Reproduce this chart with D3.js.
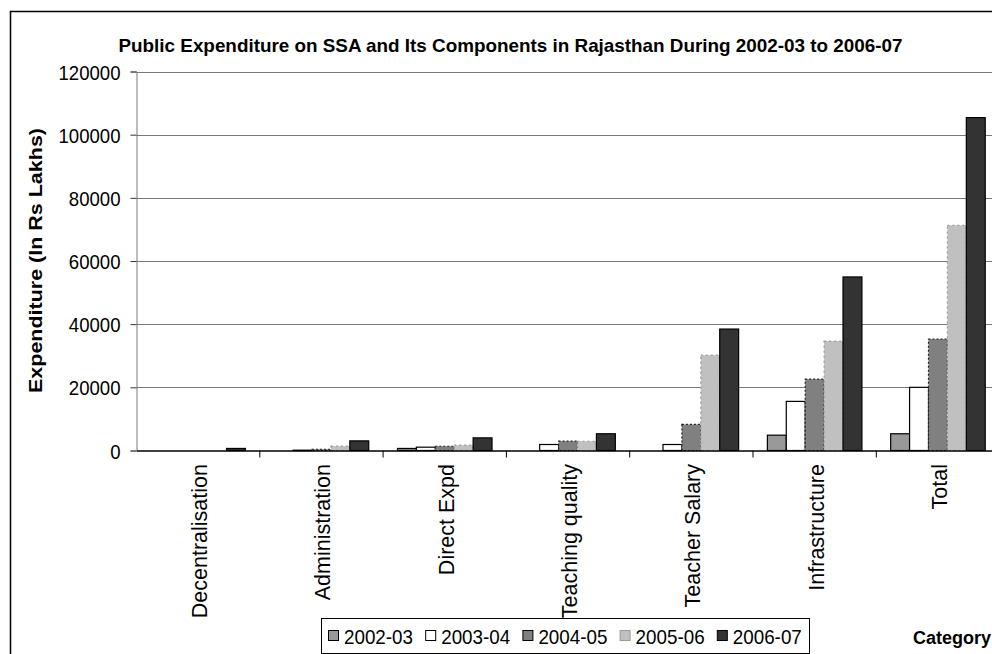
<!DOCTYPE html>
<html>
<head>
<meta charset="utf-8">
<script src="https://cdn.jsdelivr.net/npm/d3@7"></script>
<style>
  html, body { margin: 0; padding: 0; background: #fff; overflow: hidden; }
  svg { display: block; font-family: "Liberation Sans", Arial, sans-serif; }
</style>
</head>
<body>
<svg id="chart" width="992" height="654"></svg>
<script>
// SSA expenditure by component, Rs lakhs
const categories = ["Decentralisation", "Administration", "Direct Expd", "Teaching quality",
                    "Teacher Salary", "Infrastructure", "Total"];
const years = ["2002-03", "2003-04", "2004-05", "2005-06", "2006-07"];
const values2002 = [0, 0, 650, 0, 0, 4850, 5300];
const values2003 = [0, 100, 1050, 1900, 1900, 15550, 20000];
const values2004 = [0, 400, 1350, 2950, 8250, 22600, 35300];
const values2005 = [0, 1400, 1700, 2900, 30200, 34650, 71300];
const values2006 = [650, 3050, 4000, 5300, 38450, 54950, 105400];
const yTicks = [0, 20000, 40000, 60000, 80000, 100000, 120000];

const seriesValues = [values2002, values2003, values2004, values2005, values2006];
const fills = ["#999999", "#ffffff", "#808080", "#c0c0c0", "#333333"];
const strokes = ["#000", "#000", "#222", "#9a9a9a", "#000"];
const dashes = [null, null, "2,2", "2,3", null];

const svg = d3.select("#chart");
const plot = { left: 136.5, right: 999.6, top: 71.5, bottom: 450.5 };

// outer frame
svg.append("rect")
  .attr("x", 10.5).attr("y", 11.5).attr("width", 1000).attr("height", 700)
  .attr("fill", "#fff").attr("stroke", "#000").attr("stroke-width", 1.5);

const x = d3.scaleBand().domain(categories).range([plot.left, plot.right]).padding(0);
const xi = d3.scaleBand().domain(years).range([0, x.bandwidth()]).paddingInner(0).paddingOuter(0.76);
const y = d3.scaleLinear().domain([0, 120000]).range([plot.bottom, plot.top]);

// gridlines
svg.append("g").selectAll("line").data(yTicks.filter(d => d > 0)).join("line")
  .attr("x1", plot.left).attr("x2", plot.right)
  .attr("y1", d => Math.round(y(d)) + 0.5).attr("y2", d => Math.round(y(d)) + 0.5)
  .attr("stroke", "#7a7a7a").attr("stroke-width", 1);

// y axis
const yAxis = svg.append("g")
  .attr("transform", `translate(${plot.left},0)`)
  .call(d3.axisLeft(y).tickValues(yTicks).tickSize(6).tickPadding(10).tickFormat(d3.format("d")));
yAxis.select(".domain").attr("stroke", "#7a7a7a");
yAxis.selectAll(".tick line").attr("stroke", "#333");
yAxis.selectAll(".tick text")
  .attr("font-size", 21).attr("fill", "#000")
  .attr("font-family", "'Liberation Sans', Arial, sans-serif")
  .attr("dy", "0.36em")
  .each(function() {
    const w = this.getComputedTextLength();
    d3.select(this).attr("textLength", w * 0.885).attr("lengthAdjust", "spacingAndGlyphs");
  });

// bars
const rows = categories.map((c, i) => ({ cat: c, vals: years.map((yr, j) => ({ yr, j, v: seriesValues[j][i] })) }));
const groups = svg.append("g").selectAll("g").data(rows).join("g")
  .attr("transform", d => `translate(${x(d.cat)},0)`);
groups.selectAll("rect").data(d => d.vals.filter(e => e.v > 0)).join("rect")
  .attr("x", d => xi(d.yr))
  .attr("y", d => y(d.v))
  .attr("width", xi.bandwidth())
  .attr("height", d => y(0) - y(d.v))
  .attr("fill", d => fills[d.j])
  .attr("stroke", d => strokes[d.j])
  .attr("stroke-dasharray", d => dashes[d.j])
  .attr("stroke-width", 1.2);

// x axis line and category ticks
const xAxis = svg.append("g")
  .attr("transform", `translate(0,${plot.bottom})`)
  .call(d3.axisBottom(x).tickSize(0).tickFormat(""));
xAxis.select(".domain").attr("stroke", "#000").attr("stroke-width", 1.3);
xAxis.selectAll(".tick").remove();
const boundaries = categories.map(c => x(c)).concat([plot.right]).slice(1);
svg.append("g").selectAll("line").data(boundaries).join("line")
  .attr("x1", d => d).attr("x2", d => d)
  .attr("y1", plot.bottom).attr("y2", plot.bottom + 7)
  .attr("stroke", "#000").attr("stroke-width", 1);

// category labels, rotated
svg.append("g").selectAll("text").data(categories).join("text")
  .attr("transform", d => `translate(${x(d) + x.bandwidth() / 2 + 9},464) rotate(-90)`)
  .attr("text-anchor", "end")
  .attr("font-size", 21.5)
  .attr("fill", "#000")
  .text(d => d);

// title
svg.append("text")
  .attr("x", 118.5).attr("y", 51.5)
  .attr("font-size", 18.5).attr("font-weight", "bold")
  .attr("textLength", 784).attr("lengthAdjust", "spacingAndGlyphs")
  .text("Public Expenditure on SSA and Its Components in Rajasthan During 2002-03 to 2006-07");

// y axis title
svg.append("text")
  .attr("transform", "translate(42,260.5) rotate(-90)")
  .attr("text-anchor", "middle")
  .attr("font-size", 18).attr("font-weight", "bold")
  .attr("textLength", 265).attr("lengthAdjust", "spacingAndGlyphs")
  .text("Expenditure (In Rs Lakhs)");

// x axis title
svg.append("text")
  .attr("x", 913).attr("y", 644)
  .attr("font-size", 18).attr("font-weight", "bold")
  .text("Category");

// legend
const legend = svg.append("g");
legend.append("rect")
  .attr("x", 321.5).attr("y", 618.5).attr("width", 488).attr("height", 35)
  .attr("fill", "#fff").attr("stroke", "#000").attr("stroke-width", 1);
const lx = d3.scaleBand().domain(years).range([328, 328 + 97.2 * 5]);
const items = legend.selectAll("g.item").data(years).join("g").attr("class", "item")
  .attr("transform", d => `translate(${lx(d)},0)`);
items.append("rect")
  .attr("x", 0.5).attr("y", 630.5).attr("width", 10).attr("height", 10)
  .attr("fill", (d, i) => fills[i])
  .attr("stroke", (d, i) => i === 3 ? "#9a9a9a" : "#000")
  .attr("stroke-width", 1);
items.append("text")
  .attr("x", 16).attr("y", 644)
  .attr("font-size", 21)
  .attr("textLength", 69).attr("lengthAdjust", "spacingAndGlyphs")
  .text(d => d);
</script>
</body>
</html>
